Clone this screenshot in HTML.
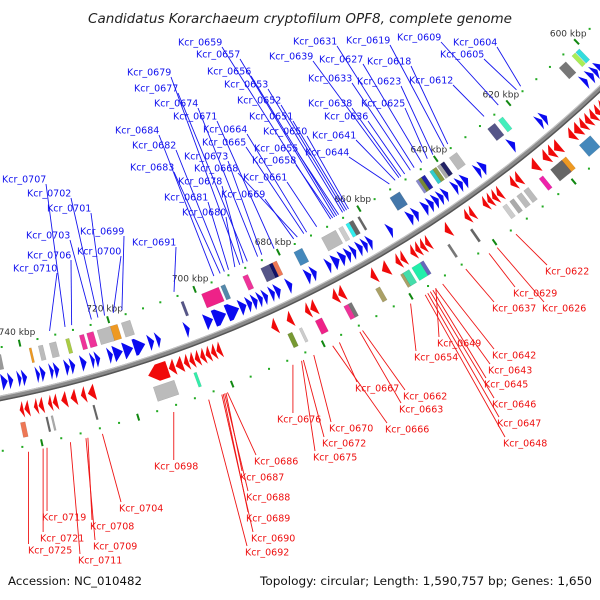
<!DOCTYPE html>
<html>
<head>
<meta charset="utf-8">
<style>
html,body{margin:0;padding:0;background:#fff;}
svg{display:block;}
text{font-family:"DejaVu Sans","Liberation Sans",sans-serif;}
</style>
</head>
<body>
<svg id="map" width="600" height="600" viewBox="0 0 600 600" xmlns="http://www.w3.org/2000/svg">
<rect width="600" height="600" fill="#fff"/>
<text x="300" y="23" text-anchor="middle" font-size="13" font-style="italic" fill="#222" textLength="424" lengthAdjust="spacingAndGlyphs">Candidatus Korarchaeum cryptofilum OPF8, complete genome</text>
<g id="backbone">
<circle cx="-233" cy="-789" r="1210" fill="none" stroke="#8a8a8a" stroke-width="5.5"/>
<circle cx="-233" cy="-789" r="1212.2" fill="none" stroke="#555" stroke-width="1.5"/>
<circle cx="-233" cy="-789" r="1207.8" fill="none" stroke="#c4c4c4" stroke-width="1.2"/>
</g>
<g id="ticks"></g>
<g id="boxes"></g>
<g id="genes"></g>
<g id="lines"></g>
<g id="labels"></g>
<text x="8" y="585" font-size="11.5" fill="#111" textLength="134" lengthAdjust="spacingAndGlyphs">Accession: NC_010482</text>
<text x="592" y="585" text-anchor="end" font-size="11.5" fill="#111" textLength="332" lengthAdjust="spacingAndGlyphs">Topology: circular; Length: 1,590,757 bp; Genes: 1,650</text>
</svg>
<script>
// ---- data (kbp) ----
const tickLabelsKbp = [600, 620, 640, 660, 680, 700, 720, 740];
const fwdStart = [599.5,601,602.2,604,615.5,616.8,624.3,632,633.5,636.8,638.2,639.5,642,643.2,644.4,645.7,647,649.5,650.8,656,661,662.2,663.4,665,666.2,667.5,669,671,674.5,675.8,680.3,683,684.4,686,687.2,688.4,689.7,691,692.7,695.7,698.7,704,710.5,712,714,716.7,719,721.2,724,725.2,727,729.5,730.7,733,734.2,736,737.2,740,741.2,743,744.2,747,748.2];
const fwdEnd   = [600.8,602,603.3,605,616.6,617.8,625.5,633.3,634.5,638,639.3,640.5,643,644.2,645.5,646.8,648.2,650.6,652,657,662,663.2,664.5,666,667.3,668.8,670.5,672,675.6,677,681.4,684.2,685.4,687,688.2,689.5,690.8,692.5,695.5,698.5,700.5,705,711.5,713.2,716.5,718.8,721,722.2,725,726,728.2,730.5,731.7,734,735,737,738,741,742,744,745.5,748,749.2];
const revStart = [597,598.4,600,601.2,602.5,603.8,605.2,606.5,607.8,609.2,610.6,612,613.7,617.5,619.2,620.7,623.5,628,629.4,633,634.2,635.4,636.6,640,641.2,646,651,652.2,653.4,654.6,657,658.2,661,664,671.5,673,678,679.5,683.5,687,699.5,700.7,701.9,703.1,704.3,705.5,706.7,708,709.7,711.2,727,729,731,733,735,736.2,738,739.2,741,742.2];
const revEnd   = [598.2,599.6,601,602.3,603.6,605,606.3,607.6,609,610.4,611.8,613.5,615,619,620.5,622,625,629.2,630.5,634,635.2,636.4,637.6,641,642.2,647.2,652,653.2,654.4,655.6,658,659.2,662.5,665.2,672.8,674.2,679.3,680.5,684.7,688.2,700.5,701.7,702.9,704.1,705.3,706.5,707.7,709.5,711,715.5,728.5,730,732.2,734.2,736,737,739,740,742,743];
const innerBoxPos = [601.2,602.4,605.7,623.5,626.1,636.5,639.4,640.3,641.5,642.3,644.5,645.3,646,651.8,661,662.9,663.8,665.5,668.5,676,681.7,682.6,684,688.7,694,697,703.5,716.5,719.4,721.5,724.6,726.5,729.7,733,735.7,738,745];
const innerBoxLen = [1.1,1,2,1.2,2,2,1,0.8,1,0.8,1,0.8,0.6,2.5,0.5,1,0.8,1,3.5,2,1,0.8,2,1.2,1,4,0.6,2,2,3,1.5,1,0.8,1.5,1,0.5,1];
const innerBoxColor = ["#33dddd","#aaee55","#777777","#44eebb","#555588","#bbbbbb","#222266","#aaaaaa","#889944","#33cccc","#2222aa","#778833","#8888cc","#4477aa","#666666","#666666","#33eeee","#cccccc","#bbbbbb","#4488bb","#ee7755","#111166","#555588","#ee3399","#5588aa","#ee2288","#555588","#bbbbbb","#ee9922","#bbbbbb","#ee3399","#ee3399","#aacc44","#bbbbbb","#bbbbbb","#ee9922","#999999"];
const outerBoxPos = [612.9,618.6,619.5,620.6,624.6,628.5,630.3,632.2,634,642.4,648,654.5,655.9,658.3,659.3,665,671.5,672.4,678.7,682.8,685.2,706.2,713,728,736.8,737.9,742.9];
const outerBoxLen = [3,1.2,0.8,3,1,1.2,1.2,1,1,0.5,0.5,0.8,2,1.5,0.6,1,0.8,1,1.5,0.6,1,0.6,4.5,0.4,0.4,0.4,1];
const outerBoxColor = ["#4488bb","#ee9922","#ee3399","#666666","#ee22aa","#bbbbbb","#bbbbbb","#aaaaaa","#cccccc","#666666","#777777","#6666bb","#22eeaa","#44ddaa","#aaa066","#aaa066","#777777","#ee3399","#ee2288","#cccccc","#779933","#33eeaa","#bbbbbb","#666666","#aaaaaa","#666666","#ee7755"];
const blueNames = ["Kcr_0604","Kcr_0605","Kcr_0609","Kcr_0612","Kcr_0618","Kcr_0619","Kcr_0623","Kcr_0625","Kcr_0627","Kcr_0631","Kcr_0633","Kcr_0636","Kcr_0638","Kcr_0639","Kcr_0641","Kcr_0644","Kcr_0650","Kcr_0651","Kcr_0652","Kcr_0653","Kcr_0655","Kcr_0656","Kcr_0657","Kcr_0658","Kcr_0659","Kcr_0661","Kcr_0664","Kcr_0665","Kcr_0668","Kcr_0669","Kcr_0671","Kcr_0673","Kcr_0674","Kcr_0677","Kcr_0678","Kcr_0679","Kcr_0680","Kcr_0681","Kcr_0682","Kcr_0683","Kcr_0684","Kcr_0691","Kcr_0699","Kcr_0700","Kcr_0701","Kcr_0702","Kcr_0703","Kcr_0706","Kcr_0707","Kcr_0710"];
const blueGeneKbp = [615.6,616.8,622,626,636,637,640,641.5,643,645,646,647.5,648.5,649,650,651.5,662,662.5,663,663.5,664.5,665,665.5,666,666.5,670,672.5,673.2,674.8,675.7,680.5,683.5,684.5,687,688,688.8,690,691.5,692.5,693.5,695,704.4,716.5,718.5,720.5,722,723.5,728,729.5,733];
const blueLabelX = [453,440,397,409,367,346,357,361,319,293,308,324,308,269,312,305,263,249,237,224,254,207,196,252,178,243,203,202,194,221,173,184,154,134,178,127,182,164,132,130,115,132,80,77,47,27,26,27,2,13];
const blueLabelY = [42,54,37,80,61,40,81,103,59,41,78,116,103,56,135,152,131,116,100,84,148,71,54,160,42,177,129,142,168,194,116,156,103,88,181,72,212,197,145,167,130,242,231,251,208,193,235,255,179,268];
const redNames = ["Kcr_0622","Kcr_0626","Kcr_0629","Kcr_0637","Kcr_0642","Kcr_0643","Kcr_0645","Kcr_0646","Kcr_0647","Kcr_0648","Kcr_0649","Kcr_0654","Kcr_0662","Kcr_0663","Kcr_0666","Kcr_0667","Kcr_0670","Kcr_0672","Kcr_0675","Kcr_0676","Kcr_0686","Kcr_0687","Kcr_0688","Kcr_0689","Kcr_0690","Kcr_0692","Kcr_0698","Kcr_0704","Kcr_0708","Kcr_0709","Kcr_0711","Kcr_0719","Kcr_0721","Kcr_0725"];
const redGeneKbp = [635.6,640.2,642.2,647.8,653.3,655,655.6,656.2,656.8,657.4,654.9,660.8,671.8,672.4,678.5,677,682.7,685,685.4,687.3,701.5,701.8,702.1,702.4,702.7,705.5,712.9,727.8,730.8,731.2,734.4,739.2,740,743];
const redLabelX = [545,542,513,492,492,488,484,492,497,503,437,414,403,399,385,355,329,322,313,277,254,240,246,246,251,245,154,119,90,93,78,42,40,28];
const redLabelY = [271,308,293,308,355,370,384,404,423,443,343,357,396,409,429,388,428,443,457,419,461,477,497,518,538,552,466,508,526,546,560,517,538,550];

// ---- axis functions ----
const CX = -233, CY = -789;
const A0 = 68.37, DEG_PER_KBP = 360 / 1590.757;
function ang(kbp){ return (A0 + (kbp - 700) * DEG_PER_KBP) * Math.PI / 180; }
function pt(r, kbp){ const a = ang(kbp); return [CX + r * Math.cos(a), CY + r * Math.sin(a)]; }
const NS = "http://www.w3.org/2000/svg";
function mk(tag, parent){ const e = document.createElementNS(NS, tag); parent.appendChild(e); return e; }
function poly(pts){ return pts.map(p => p[0].toFixed(2) + "," + p[1].toFixed(2)).join(" "); }

// ---- scale ticks ----
const gT = document.getElementById("ticks");
for (let k = 596; k <= 752; k += 4) {
  const major = (k % 20 === 0);
  [1160, 1262].forEach(r => {
    if (major) {
      const a = pt(r - 3.5, k), b = pt(r + 3.5, k);
      const l = mk("line", gT);
      
      
      l.setAttribute("x1", a[0]); l.setAttribute("y1", a[1]); l.setAttribute("x2", b[0]); l.setAttribute("y2", b[1]);
      l.setAttribute("stroke", "#118811"); l.setAttribute("stroke-width", "2");
    } else {
      const c = pt(r, k);
      const d = mk("rect", gT);
      
      
      d.setAttribute("x", c[0] - 1); d.setAttribute("y", c[1] - 1); d.setAttribute("width", 2); d.setAttribute("height", 2);
      d.setAttribute("fill", "#22aa22");
    }
  });
}
tickLabelsKbp.forEach(k => {
  const c = pt(1148, k);
  const t = mk("text", gT);
  
  
  t.setAttribute("x", c[0]); t.setAttribute("y", c[1] + 3.5);
  t.setAttribute("text-anchor", "middle"); t.setAttribute("font-size", "9"); t.setAttribute("fill", "#333");
  t.textContent = k + " kbp";
});

// ---- boxes ----
const gB = document.getElementById("boxes");
function box(pos, len, color, r1, r2){
  const s = pos - len / 2, e = pos + len / 2;
  const p = mk("polygon", gB);
  
  
  p.setAttribute("points", poly([pt(r1, s), pt(r2, s), pt(r2, e), pt(r1, e)]));
  p.setAttribute("fill", color); p.setAttribute("stroke", "rgba(0,0,0,0.15)"); p.setAttribute("stroke-width", "0.5");
}
innerBoxPos.forEach((p, i) => box(p, innerBoxLen[i], innerBoxColor[i], 1167, 1182));
outerBoxPos.forEach((p, i) => box(p, outerBoxLen[i], outerBoxColor[i], 1238, 1253));

// ---- genes ----
const gG = document.getElementById("genes");
fwdStart.forEach((s, i) => {
  const e = fwdEnd[i], r1 = 1186, r2 = 1203, rm = (r1 + r2) / 2;
  const h = Math.min(e - s, 2.0);
  const pts = (h >= e - s) ? [pt(r1, e), pt(r2, e), pt(rm, s)]
    : [pt(r1, e), pt(r2, e), pt(r2, s + h), pt(rm, s), pt(r1, s + h)];
  const g = mk("polygon", gG);
  
  
  g.setAttribute("points", poly(pts)); g.setAttribute("fill", "#0a0af0");
});
revStart.forEach((s, i) => {
  const e = revEnd[i], r1 = 1217, r2 = 1234, rm = (r1 + r2) / 2;
  const h = Math.min(e - s, 2.0);
  const pts = (h >= e - s) ? [pt(r1, s), pt(r2, s), pt(rm, e)]
    : [pt(r1, s), pt(r2, s), pt(r2, e - h), pt(rm, e), pt(r1, e - h)];
  const g = mk("polygon", gG);
  
  
  g.setAttribute("points", poly(pts)); g.setAttribute("fill", "#f00a0a");
});

// ---- labels and leader lines ----
const gL = document.getElementById("lines"), gX = document.getElementById("labels");
const LABEL_W = 44;
blueNames.forEach((n, i) => {
  const end = pt(1155, blueGeneKbp[i]);
  const l = mk("line", gL);
  
  
  l.setAttribute("x1", blueLabelX[i] + LABEL_W); l.setAttribute("y1", blueLabelY[i] + 5);
  l.setAttribute("x2", end[0]); l.setAttribute("y2", end[1]);
  l.setAttribute("stroke", "#1515ee"); l.setAttribute("stroke-width", "0.9");
  const t = mk("text", gX);
  
  
  t.setAttribute("x", blueLabelX[i]); t.setAttribute("y", blueLabelY[i] + 3.5);
  t.setAttribute("font-size", "9.5"); t.setAttribute("fill", "#1010ee");
  t.textContent = n;
});
redNames.forEach((n, i) => {
  const st = pt(1268, redGeneKbp[i]);
  const lx = redLabelX[i], ly = redLabelY[i];
  const ex = (st[0] > lx + LABEL_W) ? lx + LABEL_W - 2 : (st[0] < lx ? lx + 2 : st[0]);
  const l = mk("line", gL);
  
  
  l.setAttribute("x1", st[0]); l.setAttribute("y1", st[1]);
  l.setAttribute("x2", ex); l.setAttribute("y2", ly - 6);
  l.setAttribute("stroke", "#ee1515"); l.setAttribute("stroke-width", "0.9");
  const t = mk("text", gX);
  
  
  t.setAttribute("x", lx); t.setAttribute("y", ly + 3.5);
  t.setAttribute("font-size", "9.5"); t.setAttribute("fill", "#ee1010");
  t.textContent = n;
});
</script>
</body>
</html>
